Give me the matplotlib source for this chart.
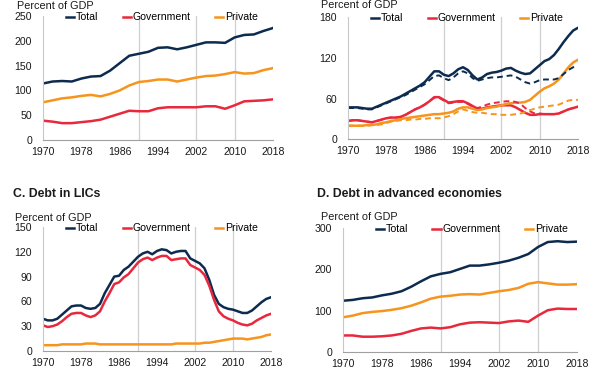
# debt panels: total / government / private, percent of GDP
import matplotlib
matplotlib.use('Agg')
import matplotlib.pyplot as plt
import numpy as np

plt.rcParams['font.family'] = ['Liberation Sans', 'DejaVu Sans']
plt.rcParams['font.size'] = 7.5

# ------ Colours ------
navy = '#0d2b4f'
red = '#e8283c'
orange = '#f7941d'
textc = '#1a1a1a'

# ------ Data ------
years2 = np.arange(1970, 2019, 2)   # biennial, panels A and D
years1 = np.arange(1970, 2019, 1)   # annual, panels B and C

# Panel A
a_total = [114, 118, 119, 118, 124, 128, 129, 140, 155, 170, 174, 178, 186, 187, 183, 187,
           192, 197, 197, 196, 207, 212, 213, 220, 226]
a_gov = [39, 37, 34, 34, 36, 38, 41, 47, 53, 59, 58, 58, 64, 66, 66, 66,
         66, 68, 68, 63, 70, 78, 79, 80, 82]
a_priv = [76, 80, 84, 86, 89, 91, 88, 93, 100, 110, 117, 119, 122, 122, 118, 122,
          126, 129, 130, 133, 137, 134, 135, 141, 145]

# Panel B (solid and dashed)
b_total = [47, 47, 47, 46, 45, 45, 48, 51, 54, 57, 60, 63, 67, 71, 75, 79, 84, 92, 100, 100,
           95, 93, 97, 103, 106, 102, 94, 88, 91, 96, 98, 99, 101, 104, 105, 101, 98, 96, 97,
           103, 109, 115, 118, 124, 133, 143, 152, 160, 164]
b_total_d = [46, 46, 46, 45, 44, 44, 47, 50, 53, 56, 59, 62, 65, 69, 73, 77, 81, 87, 93, 94,
             90, 87, 91, 97, 100, 97, 90, 86, 88, 90, 91, 91, 92, 93, 94, 92, 88, 84, 82,
             84, 87, 88, 88, 88, 90, 96, 102, 106, 107]
b_gov = [27, 28, 28, 27, 26, 25, 27, 29, 31, 32, 32, 33, 36, 40, 44, 47, 51, 56, 62, 62,
         58, 54, 55, 56, 56, 53, 49, 45, 45, 47, 48, 49, 50, 50, 50, 47, 43, 39, 36,
         36, 37, 37, 37, 37, 38, 41, 44, 46, 48]
b_gov_d = [27, 28, 28, 27, 26, 25, 27, 29, 31, 32, 32, 33, 36, 40, 44, 47, 51, 56, 61, 61,
           57, 53, 54, 55, 55, 52, 48, 46, 48, 51, 53, 54, 55, 56, 56, 55, 52, 46, 41,
           38, 38, 37, 37, 37, 38, 41, 44, 46, 48]
b_priv = [20, 20, 20, 20, 21, 21, 22, 24, 25, 27, 28, 30, 31, 32, 33, 34, 35, 36, 37, 37,
          38, 39, 41, 45, 47, 47, 45, 43, 44, 46, 47, 48, 50, 52, 53, 54, 54, 55, 58,
          64, 70, 75, 78, 82, 88, 97, 106, 113, 117]
b_priv_d = [20, 20, 20, 20, 20, 21, 21, 22, 24, 26, 27, 28, 28, 29, 29, 30, 30, 31, 31, 31,
            32, 34, 37, 41, 44, 42, 40, 39, 39, 38, 37, 37, 36, 36, 36, 37, 38, 40, 43,
            45, 47, 48, 49, 50, 51, 54, 57, 58, 58]

# Panel C
c_total = [39, 37, 37, 39, 44, 49, 54, 55, 55, 52, 51, 52, 57, 70, 80, 90, 91, 98, 102, 108,
           114, 118, 120, 117, 121, 123, 122, 118, 120, 121, 121, 112, 109, 106, 100, 86, 68,
           57, 53, 51, 50, 48, 46, 46, 49, 54, 59, 63, 65]
c_gov = [31, 29, 30, 32, 36, 41, 45, 46, 46, 43, 41, 43, 48, 60, 70, 81, 83, 89, 93, 100,
         107, 111, 113, 110, 113, 115, 115, 110, 111, 112, 112, 104, 101, 98, 92, 79, 62,
         48, 42, 39, 37, 34, 32, 31, 33, 37, 40, 43, 45]
c_priv = [7, 7, 7, 7, 8, 8, 8, 8, 8, 9, 9, 9, 8, 8, 8, 8, 8, 8, 8, 8,
          8, 8, 8, 8, 8, 8, 8, 8, 9, 9, 9, 9, 9, 9, 10, 10, 11,
          12, 13, 14, 15, 15, 15, 14, 15, 16, 17, 19, 20]

# Panel D
d_total = [124, 126, 130, 132, 137, 141, 147, 158, 171, 183, 189, 193, 201, 209, 209, 212,
           216, 221, 228, 237, 254, 266, 268, 266, 267]
d_gov = [40, 40, 37, 37, 38, 40, 44, 51, 57, 59, 57, 60, 67, 71, 72, 71,
         70, 74, 76, 73, 88, 101, 105, 104, 104]
d_priv = [84, 88, 94, 97, 99, 102, 106, 112, 120, 129, 134, 136, 139, 140, 139, 143,
          147, 150, 155, 165, 169, 166, 163, 163, 164]

xticks = [1970, 1978, 1986, 1994, 2002, 2010, 2018]
vlines = [1990, 2002, 2010]


# ------ Axes style ------
def style(ax, ymax, ystep):
    ax.set_xlim(1970, 2018)
    ax.set_ylim(0, ymax)
    ax.set_xticks(xticks)
    ax.set_yticks(np.arange(0, ymax + 1, ystep))
    ax.tick_params(length=0, labelsize=7.6, colors=textc)
    ax.tick_params(axis='y', pad=8)
    ax.tick_params(axis='x', pad=5)
    for s in ['top', 'right']:
        ax.spines[s].set_visible(False)
    ax.spines['left'].set_color('#c8c8c8')
    ax.spines['bottom'].set_color('#a0a0a0')
    for v in vlines:
        ax.axvline(v, color='#cfcfcf', lw=0.9, zorder=0)


def legend(ax, xoff):
    ax.legend(loc='upper left', bbox_to_anchor=(xoff, 1.03), ncol=3, frameon=False,
              handlelength=0.8, handletextpad=0.15, columnspacing=2.3,
              borderpad=0, borderaxespad=0, fontsize=7.6)


fig = plt.figure(figsize=(6, 3.72), dpi=100)

axA = fig.add_axes([0.0717, 0.6237, 0.3833, 0.333])
axB = fig.add_axes([0.58, 0.6255, 0.3833, 0.329])
axC = fig.add_axes([0.0717, 0.0565, 0.38, 0.3333])
axD = fig.add_axes([0.5717, 0.0538, 0.39, 0.3333])

lw = 1.8

# A
axA.plot(years2, a_total, color=navy, lw=lw, label='Total')
axA.plot(years2, a_gov, color=red, lw=lw, label='Government')
axA.plot(years2, a_priv, color=orange, lw=lw, label='Private')
style(axA, 250, 50)
legend(axA, 0.1)

# B
axB.plot(years1, b_total, color=navy, lw=lw, label='Total')
axB.plot(years1, b_gov, color=red, lw=lw, label='Government')
axB.plot(years1, b_priv, color=orange, lw=lw, label='Private')
axB.plot(years1, b_total_d, color=navy, lw=1.4, ls=(0, (3, 2)))
axB.plot(years1, b_gov_d, color=red, lw=1.4, ls=(0, (3, 2)))
axB.plot(years1, b_priv_d, color=orange, lw=1.4, ls=(0, (3, 2)))
style(axB, 180, 60)
legend(axB, 0.1)

# C
axC.plot(years1, c_total, color=navy, lw=lw, label='Total')
axC.plot(years1, c_gov, color=red, lw=lw, label='Government')
axC.plot(years1, c_priv, color=orange, lw=lw, label='Private')
style(axC, 150, 30)
legend(axC, 0.1)

# D
axD.plot(years2, d_total, color=navy, lw=lw, label='Total')
axD.plot(years2, d_gov, color=red, lw=lw, label='Government')
axD.plot(years2, d_priv, color=orange, lw=lw, label='Private')
style(axD, 300, 100)
legend(axD, 0.14)

# ------ Texts ------
fig.text(17 / 600, 1 - 6 / 372, 'Percent of GDP', fontsize=7.8, color=textc, va='center')
fig.text(321 / 600, 1 - 5 / 372, 'Percent of GDP', fontsize=7.8, color=textc, va='center')
fig.text(15 / 600, 1 - 218 / 372, 'Percent of GDP', fontsize=7.8, color=textc, va='center')
fig.text(321 / 600, 1 - 217 / 372, 'Percent of GDP', fontsize=7.8, color=textc, va='center')
fig.text(13 / 600, 1 - 194 / 372, 'C. Debt in LICs', fontsize=8.8, fontweight='bold',
         color=textc, va='center')
fig.text(317 / 600, 1 - 194 / 372, 'D. Debt in advanced economies', fontsize=8.8,
         fontweight='bold', color=textc, va='center')

plt.savefig('out.png', dpi=100)
